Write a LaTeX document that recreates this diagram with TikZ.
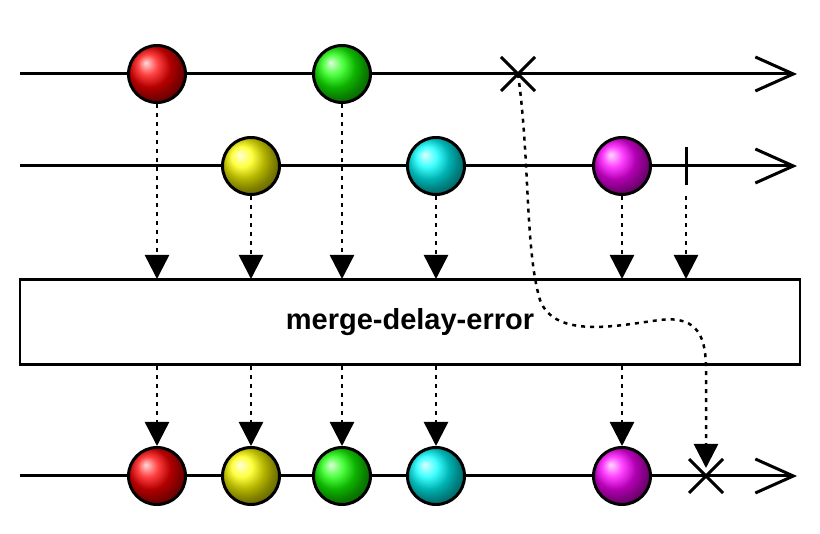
\documentclass[tikz,border=0pt]{standalone}
\usepackage{fontspec}
\setmainfont{Liberation Sans}
\usetikzlibrary{arrows.meta,calc}
\begin{document}
\begin{tikzpicture}[x=1pt,y=-1pt,
 timeline/.style={line width=3pt,-{Straight Barb[length=38pt,width=34pt,line width=3pt]}},
 marble/.style={circle,draw=black,line width=3pt,minimum size=57pt,inner sep=0pt,ball color=#1},
 flow/.style={line width=2.5pt,dash pattern=on 4pt off 5pt,-{Triangle[length=24pt,width=24pt]}},
 errx/.style={line width=3pt},
 opbox/.style={draw=black,line width=2.5pt,fill=white,minimum width=780pt,minimum height=85pt,inner sep=0pt,font=\bfseries\fontsize{29}{32}\selectfont}]
\useasboundingbox[fill=white] (0,0) rectangle (820,534);
\coordinate (l1s) at (20,74); \coordinate (l1e) at (797,74);
\coordinate (l2s) at (20,166); \coordinate (l2e) at (797,166);
\coordinate (l3s) at (20,476); \coordinate (l3e) at (797,476);
\draw[timeline] (l1s) -- (l1e);
\draw[timeline] (l2s) -- (l2e);
\draw[timeline] (l3s) -- (l3e);
\node[opbox] (op) at (410,322) {merge-delay-error};
\node[marble=red] (a1) at (157,74) {};
\node[marble=green!90!lime] (b1) at (342,74) {};
\node[marble=yellow] (y1) at (251,166) {};
\node[marble=cyan] (c1) at (436,166) {};
\node[marble=magenta] (m1) at (622,166) {};
\coordinate (ex) at (518,74);
\draw[errx] ($(ex)+(-17,-17)$) -- ($(ex)+(17,17)$) ($(ex)+(-17,17)$) -- ($(ex)+(17,-17)$);
\coordinate (tk) at (686,166);
\draw[line width=3pt] (686,147) -- (686,185);
\node[marble=red] (a2) at (157,476) {};
\node[marble=yellow] (y2) at (251,476) {};
\node[marble=green!90!lime] (b2) at (342,476) {};
\node[marble=cyan] (c2) at (436,476) {};
\node[marble=magenta] (m2) at (622,476) {};
\coordinate (ex2) at (706,476);
\draw[errx] (689,459) -- (723,493) (689,493) -- (723,459);
\foreach \n/\x in {a1/157,b1/342,y1/251,c1/436,m1/622}{
  \draw[flow] (\n.south) -- (\x,279);}
\draw[flow] (686,196) -- (686,279);
\foreach \n/\x in {a2/157,y2/251,b2/342,c2/436,m2/622}{
  \draw[flow] (\x,366) -- (\n.north);}
\draw[flow] (ex) .. controls (530,160) and (525,250) .. (540,300)
  .. controls (555,340) and (620,325) .. (660,320)
  .. controls (700,315) and (706,340) .. (706,370) -- (706,468);
\end{tikzpicture}
\end{document}
